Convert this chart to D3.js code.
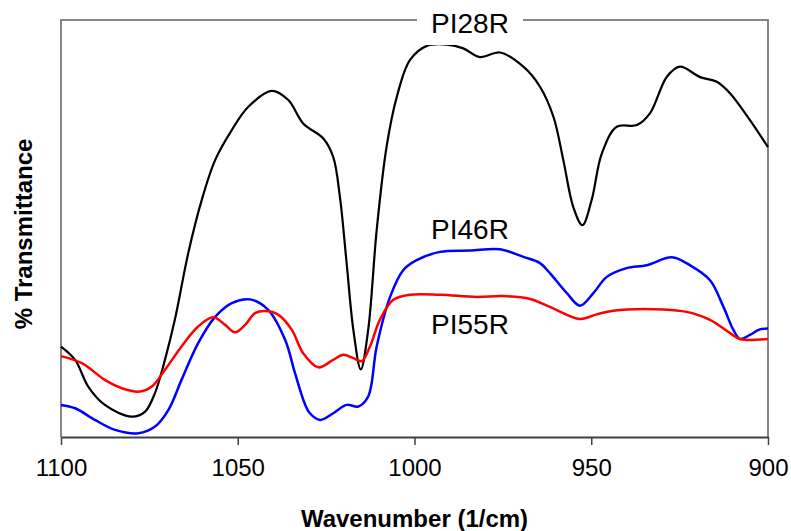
<!DOCTYPE html>
<html lang="en">
<head>
<meta charset="UTF-8">
<title>FTIR spectra</title>
<script src="https://d3js.org/d3.v7.min.js"></script>
<style>
  body { margin: 0; background: #fff; }
  text { font-family: "Liberation Sans", Arial, sans-serif; }
</style>
</head>
<body>
<script>
// wavenumber (1/cm) and transmittance (arbitrary %)
var pi28rWn = [1100, 1096, 1092.3, 1087.6, 1080, 1076.2, 1073.4, 1070.6, 1067.8, 1064, 1060.2, 1056.4, 1051.7, 1047, 1040.4, 1035.7, 1031.5, 1025.8, 1023, 1021.1, 1019.2, 1017.3, 1015.2, 1013.1, 1010.7, 1007.9, 1005, 1001.3, 996.5, 990.8, 986.2, 981.5, 975.8, 969.2, 964.5, 960.7, 957.9, 955.1, 952.5, 949.9, 947, 942.8, 937.1, 933.4, 928.6, 924.9, 919.2, 914.5, 910.7, 905.1, 900];
var pi28rT = [21.7, 18.5, 12.1, 7.7, 4.9, 6.1, 10.6, 18.5, 28.1, 44.1, 56.8, 66.4, 73.6, 79.2, 83.0, 80.8, 75.2, 71.6, 67.2, 57.6, 41.7, 25.7, 16.2, 25.7, 49.6, 69.6, 81.6, 90.4, 93.8, 94.1, 93.2, 91.1, 92.2, 88.8, 84.0, 76.8, 66.4, 55.2, 50.8, 56.8, 68.0, 74.4, 74.8, 77.6, 86.4, 88.8, 86.3, 85.2, 82.4, 76.0, 69.5];

var pi46rWn = [1100, 1096, 1090.4, 1084.7, 1078.1, 1073.4, 1069.6, 1065.9, 1061.2, 1056.4, 1051.7, 1046.5, 1041.4, 1036.6, 1033.8, 1031, 1029.6, 1026.7, 1023, 1019.2, 1015.9, 1013.1, 1010.7, 1006.9, 1003.2, 999.4, 992.8, 984.3, 975.8, 969.2, 964.5, 961.7, 956.9, 953.2, 949.4, 945.6, 940, 934.3, 927.2, 922.1, 916.4, 912.6, 909.8, 907.9, 905.1, 902.3, 900];
var pi46rT = [7.7, 6.9, 4.1, 1.7, 0.9, 2.5, 6.5, 13.7, 22.5, 28.8, 32.1, 33.0, 30.5, 23.3, 15.3, 7.9, 5.7, 4.1, 5.7, 7.7, 7.3, 9.7, 21.7, 33.6, 40.0, 42.4, 44.4, 44.7, 45.0, 43.2, 41.7, 39.3, 34.5, 31.5, 34.5, 38.4, 40.5, 41.2, 43.1, 41.2, 37.6, 31.2, 25.7, 23.5, 24.5, 25.8, 26.0];

var pi55rWn = [1100, 1094.1, 1087.6, 1082.8, 1077.7, 1074.3, 1070.6, 1065.9, 1061.2, 1056.9, 1053.6, 1050.8, 1047.9, 1045.1, 1042.3, 1038.5, 1034.7, 1031.5, 1027.2, 1023, 1020.1, 1017.3, 1014.9, 1012.6, 1009.8, 1006, 1001.3, 992.8, 982.4, 974.9, 967.3, 961.7, 953.2, 948.5, 943.8, 929.6, 923, 916.4, 910.7, 907.9, 900];
var pi55rT = [19.4, 17.7, 13.7, 11.7, 10.9, 12.1, 16.1, 21.7, 26.5, 28.7, 26.9, 25.1, 26.9, 29.7, 30.2, 29.3, 25.7, 20.1, 16.7, 18.5, 19.7, 18.9, 18.2, 21.7, 28.1, 32.9, 34.1, 34.1, 33.6, 33.8, 33.1, 31.2, 28.3, 29.4, 30.3, 30.6, 30.0, 28.1, 24.9, 23.5, 23.5];

var seriesNames = ["PI28R", "PI46R", "PI55R"];
var seriesColors = ["#000000", "#0000ff", "#ff0000"];
var xTicks = [1100, 1050, 1000, 950, 900];

var width = 791, height = 531;
var plotLeft = 61, plotRight = 768, plotTop = 20, plotBottom = 437;

var svg = d3.select("body").append("svg").attr("width", width).attr("height", height);

var x = d3.scaleLinear().domain([1100, 900]).range([plotLeft, plotRight]);
var y = d3.scaleLinear().domain([0, 100]).range([plotBottom, plotTop]);

// frame on the left, top and right
svg.append("path")
  .attr("d", "M" + plotLeft + "," + plotBottom + "V" + plotTop + "H" + plotRight + "V" + plotBottom)
  .attr("fill", "none").attr("stroke", "#868686").attr("stroke-width", 2);

var xAxis = svg.append("g")
  .attr("transform", "translate(0," + plotBottom + ")")
  .call(d3.axisBottom(x).tickValues(xTicks).tickFormat(d3.format("d"))
    .tickSize(8).tickSizeOuter(0).tickPadding(14));
xAxis.select(".domain").attr("stroke", "#404040").attr("stroke-width", 2);
xAxis.selectAll(".tick line").attr("stroke", "#404040").attr("stroke-width", 1.5);
xAxis.selectAll(".tick text")
  .attr("font-size", 24).attr("font-family", "Liberation Sans, Arial, sans-serif").attr("fill", "#000");

var line = d3.line()
  .x(function(d) { return x(d[0]); })
  .y(function(d) { return y(d[1]); })
  .curve(d3.curveCatmullRom.alpha(0.5));

var series = [
  d3.zip(pi28rWn, pi28rT),
  d3.zip(pi46rWn, pi46rT),
  d3.zip(pi55rWn, pi55rT)
];
var widths = [2.2, 2.5, 2.5];

svg.selectAll(".spectrum").data(series).enter()
  .append("path")
  .attr("class", "spectrum")
  .attr("d", line)
  .attr("fill", "none")
  .attr("stroke", function(d, i) { return seriesColors[i]; })
  .attr("stroke-width", function(d, i) { return widths[i]; });

// labels, the top one sits on a white box over the frame
svg.append("rect").attr("x", 417).attr("y", 6).attr("width", 106).attr("height", 39).attr("fill", "#fff");
var labelPos = [[470, 33], [470, 239], [470, 334]];
svg.selectAll(".lbl").data(seriesNames).enter()
  .append("text")
  .attr("class", "lbl")
  .attr("x", function(d, i) { return labelPos[i][0]; })
  .attr("y", function(d, i) { return labelPos[i][1]; })
  .attr("text-anchor", "middle")
  .attr("font-size", 28)
  .text(function(d) { return d; });

svg.append("text")
  .attr("x", (plotLeft + plotRight) / 2).attr("y", 527)
  .attr("text-anchor", "middle")
  .attr("font-size", 24).attr("font-weight", "bold")
  .text("Wavenumber (1/cm)");

svg.append("text")
  .attr("transform", "translate(32,234) rotate(-90)")
  .attr("text-anchor", "middle")
  .attr("font-size", 24).attr("font-weight", "bold")
  .text("% Transmittance");
</script>
</body>
</html>
